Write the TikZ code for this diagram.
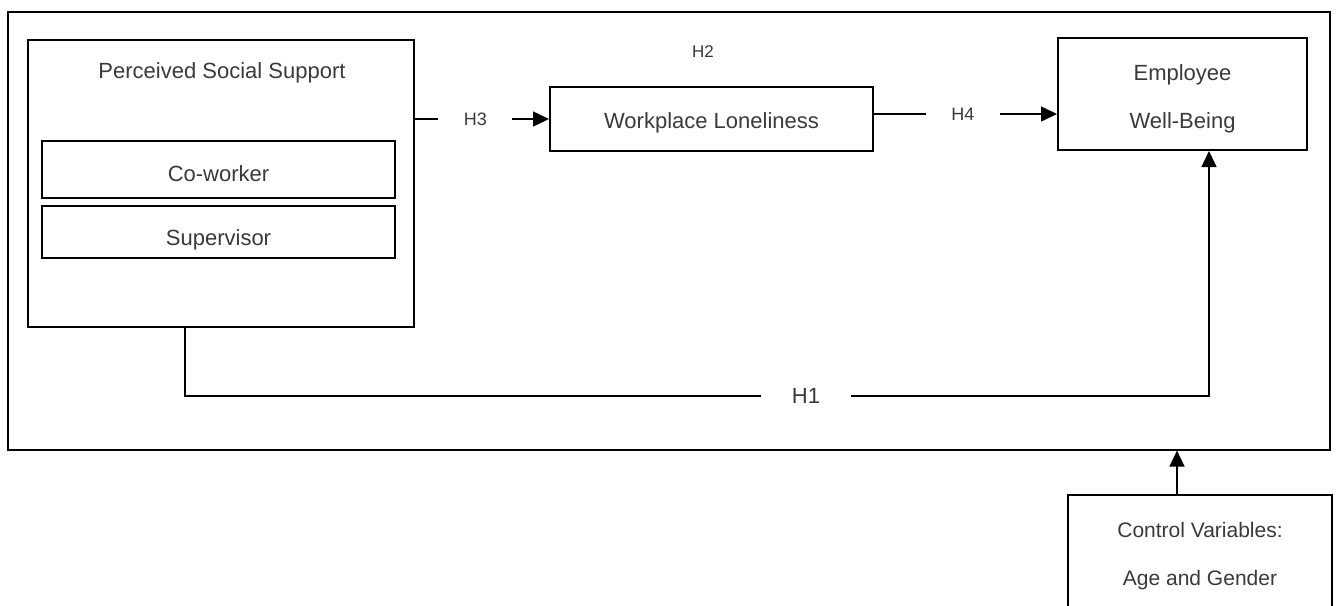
\documentclass[tikz,border=0pt]{standalone}
\usepackage{fontspec}
\setmainfont{Liberation Sans}
\usetikzlibrary{arrows.meta,calc}
\definecolor{txt}{HTML}{3A3A3A}
\newcommand{\lowr}[2]{\raisebox{-#1pt}[0pt][0pt]{#2}}
\begin{document}
\begin{tikzpicture}[x=1pt,y=-1pt,
  box/.style={draw=black,rectangle,inner sep=0pt,text=txt,font=\fontsize{22}{26}\selectfont,align=center},
  lab/.style={text=txt,inner sep=0pt,font=\fontsize{18}{20}\selectfont},
  arr/.style={line width=1.5pt,-{Triangle[length=16pt,width=15pt]}}]
\useasboundingbox (0,0) rectangle (1338,605);
\fill[white] (0,0) rectangle (1338,605);
\node[draw,line width=1.2pt,minimum width=1322pt,minimum height=438pt,inner sep=0pt] (frame) at (669,231) {};
% Perceived social support
\node[box,line width=2.2pt,minimum width=386pt,minimum height=287pt] (pss) at (221,183.5) {};
\node[text=txt,inner sep=0pt,font=\fontsize{22}{26}\selectfont] (psst) at (222,73) {Perceived Social Support};
\node[box,line width=1.5pt,minimum width=353pt,minimum height=57pt] (cow) at (218.5,169.5) {\lowr{11.5}{Co-worker}};
\node[box,line width=1.5pt,minimum width=353pt,minimum height=52pt] (sup) at (218.5,232) {\lowr{13}{Supervisor}};
% Workplace loneliness
\node[box,line width=2pt,minimum width=323pt,minimum height=64pt] (wl) at (711.5,119) {\lowr{9}{Workplace Loneliness}};
% Employee well-being
\node[box,line width=2pt,minimum width=249pt,minimum height=112pt,font=\fontsize{22}{48}\selectfont] (ewb) at (1182.5,94) {\lowr{10}{Employee}\\\lowr{10}{Well-Being}};
% Control variables
\node[box,line width=2.5pt,minimum width=264pt,minimum height=116pt,font=\fontsize{21}{48}\selectfont] (ctrl) at (1200,553) {\lowr{8}{Control Variables:}\\\lowr{8}{Age and Gender}};
% H2 label
\node[lab,font=\fontsize{17}{20}\selectfont] (h2) at (703,52) {H2};
% H3
\draw[arr] (pss.east |- wl.west) -- node[lab,fill=white,pos=0.45,minimum width=74pt,minimum height=22pt]{H3} (wl.west);
% H4
\coordinate (h4a) at ($(wl.east)+(0,-5)$);
\draw[arr] (h4a) -- node[lab,fill=white,pos=0.486,minimum width=74pt,minimum height=22pt]{H4} (h4a -| ewb.west);
% H1
\coordinate (h1y) at (0,396);
\coordinate (pssout) at ([xshift=-36pt]pss.south);
\coordinate (ewbin) at ([xshift=26.5pt]ewb.south);
\draw[arr] (pssout) |- (ewbin |- h1y) -- (ewbin);
\node[lab,fill=white,minimum width=90pt,minimum height=26pt,font=\fontsize{22}{26}\selectfont] (h1l) at (806,396) {H1};
% control arrow
\coordinate (ctin) at ([xshift=-23pt]ctrl.north);
\draw[arr] (ctin) -- (ctin |- frame.south);
\end{tikzpicture}
\end{document}
